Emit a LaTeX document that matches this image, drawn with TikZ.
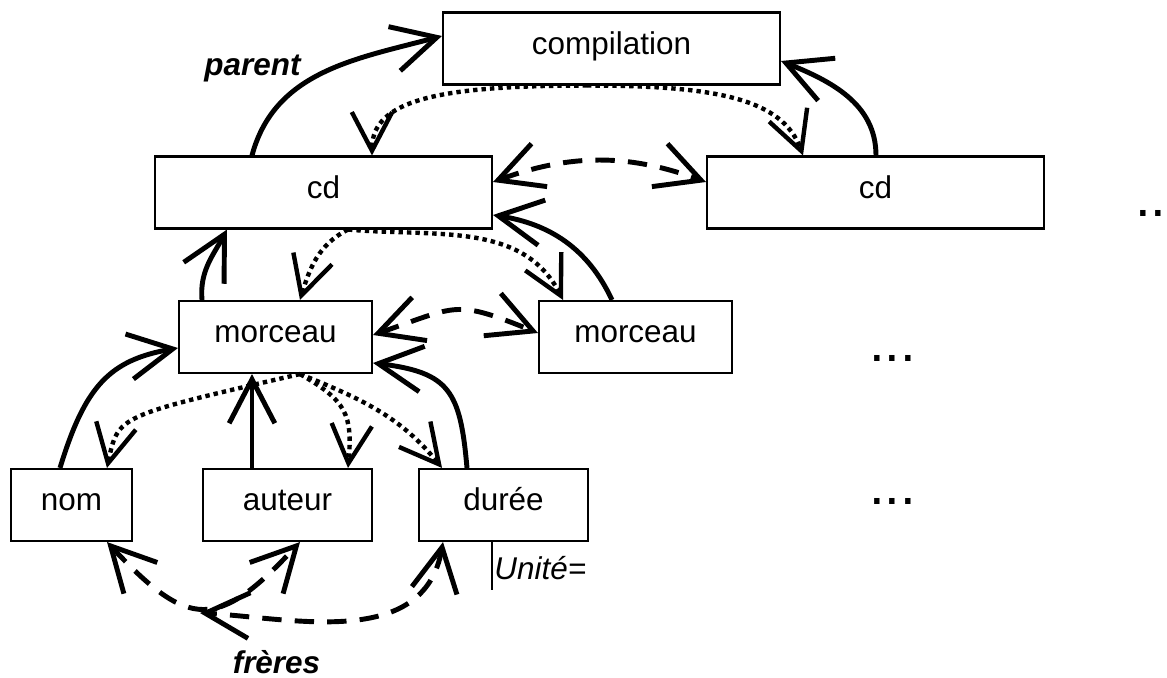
\documentclass[tikz,border=0pt]{standalone}
\usepackage{fontspec}
\setmainfont{Liberation Sans}
\usepackage{tikz}
\usetikzlibrary{arrows.meta, calc}

\newcommand{\boxfont}{\fontsize{17.9}{21}\selectfont}
\newcommand{\dotsfont}{\fontsize{32}{34}\selectfont}

\begin{document}
\begin{tikzpicture}[
  x=0.02cm, y=-0.02cm,
  box/.style={rectangle, draw, line width=1.2pt, minimum height=1.44cm,
              text height=12.4pt, text depth=5.6pt, font=\boxfont},
  link/.style={line width=2.8pt, -{Straight Barb[length=25pt, width=26pt]}},
  child/.style={line width=2.5pt, dash pattern=on 2.5pt off 2.3pt,
                -{Straight Barb[length=22pt, width=23pt]}},
  sib/.style={line width=2.8pt, dash pattern=on 11pt off 7.5pt,
              {Straight Barb[length=25pt, width=26pt]}-{Straight Barb[length=25pt, width=26pt]}},
  lbl/.style={font=\boxfont\bfseries\itshape, inner sep=0pt, anchor=base},
  more/.style={font=\dotsfont, inner sep=0pt, anchor=base west},
]

\path[use as bounding box, fill=white] (0,0) rectangle (1167,678);

\node[box, minimum width=6.74cm] (compilation) at (611.5,48.5) {compilation};
\node[box, minimum width=6.74cm] (cdA) at (323.5,192.5) {cd};
\node[box, minimum width=6.74cm] (cdB) at (875.5,192.5) {cd};
\node[box, minimum width=3.86cm] (morceauA) at (275.5,337) {morceau};
\node[box, minimum width=3.86cm] (morceauB) at (635.5,337) {morceau};
\node[box, minimum width=2.42cm] (nom) at (71.5,505) {nom};
\node[box, minimum width=3.38cm] (auteur) at (287.5,505) {auteur};
\node[box, minimum width=3.38cm] (duree) at (503.5,505) {durée};

\node[lbl] (parentLbl) at (252.5,75.5) {parent};
\node[lbl] (freresLbl) at (276.5,674) {frères};
\node[font=\boxfont\itshape, inner sep=0pt, anchor=base west] (unite) at (494,580) {Unité=};
\node[more] (moreTop) at (1135,217) {...};
\node[more] (moreMid) at (869,362) {...};
\node[more] (moreBot) at (869,505) {...};

\draw[link] ($(cdA.north)+(-71.5,0)$) to[out=75, in=195] ($(compilation.west)+(0,-12.5)$);
\draw[link] ($(cdB.north)+(0.5,0)$) to[out=90, in=-22] ($(compilation.east)+(0,12.5)$);
\draw[link] ($(morceauA.north)+(-73.5,0)$) to[out=95, in=242] ($(cdA.south)+(-96.5,0)$);
\draw[link] ($(morceauB.north)+(-23.5,0)$) to[out=115, in=-9] ($(cdA.east)+(0,22.5)$);
\draw[link] ($(nom.north)+(-11.5,0)$) to[out=73, in=190, out distance=1.7cm, in distance=1.4cm] ($(morceauA.west)+(0,11)$);
\draw[link] ($(auteur.north)+(-35.5,0)$) -- ($(morceauA.south)+(-23.5,0)$);
\draw[link] ($(duree.north)+(-36.5,0)$) to[out=95, in=-7, looseness=1.4] ($(morceauA.east)+(0,26)$);

\coordinate (cOut) at ($(compilation.south)+(-24.5,0)$);
\coordinate (cdOut) at ($(cdA.south)+(24.5,0)$);
\coordinate (mOut) at ($(morceauA.south)+(24.5,0)$);
\draw[child] (cOut) to[out=180, in=90, out distance=3cm, in distance=1.1cm] ($(cdA.north)+(48.5,0)$);
\draw[child] (cOut) to[out=0, in=110, out distance=2.6cm, in distance=1.2cm] ($(cdB.north)+(-72.5,0)$);
\draw[child] (cdOut) to[out=207, in=73] ($(morceauA.north)+(24.5,0)$);
\draw[child] (cdOut) to[out=-5, in=117] ($(morceauB.north)+(-72.5,0)$);
\draw[child] (mOut) to[out=193, in=78, out distance=3.76cm, in distance=1.08cm] ($(nom.north)+(35.5,0)$);
\draw[child] (mOut) to[out=-30, in=85, looseness=1.3] ($(auteur.north)+(60.5,0)$);
\draw[child] (mOut) to[out=-22, in=129] ($(duree.north)+(-61.5,0)$);

\coordinate (sibEnd) at (200,613);
\draw[sib] ($(cdA.east)+(0,-10.5)$) to[out=20, in=160] ($(cdB.west)+(0,-10.5)$);
\draw[sib] ($(morceauA.east)+(0,-2)$) to[out=19, in=158, looseness=1.4] ($(morceauB.west)+(0,-4)$);
\draw[sib] ($(nom.south)+(35.5,0)$) to[out=-47, in=-133, looseness=1.6] ($(auteur.south)+(12.5,0)$);
\draw[sib] ($(duree.south)+(-60.5,0)$) to[out=-100, in=-3, out distance=2.2cm, in distance=1.8cm] (sibEnd);

\draw[line width=1.1pt] ($(duree.south)+(-11.5,0)$) -- ++(0,48);

\end{tikzpicture}
\end{document}
